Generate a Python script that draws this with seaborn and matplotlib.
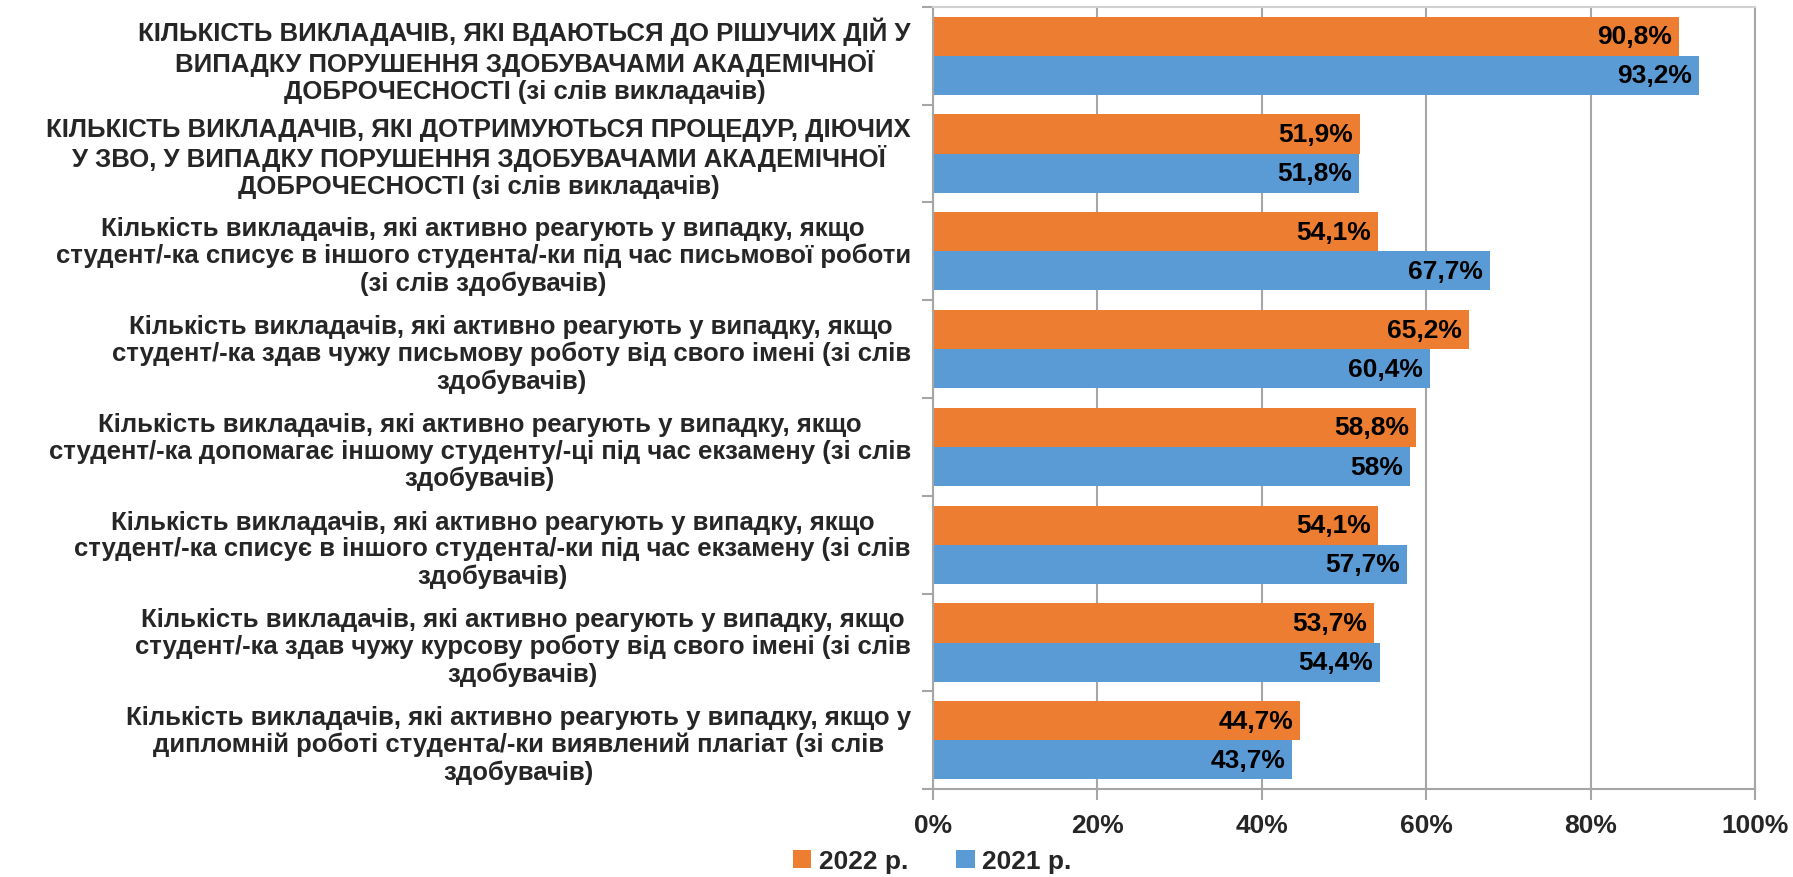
import matplotlib
matplotlib.use("Agg")
import matplotlib.pyplot as plt
import numpy as np
import pandas as pd
import seaborn as sns
from matplotlib.patches import Patch
from matplotlib.ticker import FixedLocator

categories = [
    "КІЛЬКІСТЬ ВИКЛАДАЧІВ, ЯКІ ВДАЮТЬСЯ ДО РІШУЧИХ ДІЙ У\nВИПАДКУ ПОРУШЕННЯ ЗДОБУВАЧАМИ АКАДЕМІЧНОЇ\nДОБРОЧЕСНОСТІ (зі слів викладачів)",
    "КІЛЬКІСТЬ ВИКЛАДАЧІВ, ЯКІ ДОТРИМУЮТЬСЯ ПРОЦЕДУР, ДІЮЧИХ\nУ ЗВО, У ВИПАДКУ ПОРУШЕННЯ ЗДОБУВАЧАМИ АКАДЕМІЧНОЇ\nДОБРОЧЕСНОСТІ (зі слів викладачів)",
    "Кількість викладачів, які активно реагують у випадку, якщо\nстудент/-ка списує в іншого студента/-ки під час письмової роботи\n(зі слів здобувачів)",
    "Кількість викладачів, які активно реагують у випадку, якщо\nстудент/-ка здав чужу письмову роботу від свого імені (зі слів\nздобувачів)",
    "Кількість викладачів, які активно реагують у випадку, якщо\nстудент/-ка допомагає іншому студенту/-ці під час екзамену (зі слів\nздобувачів)",
    "Кількість викладачів, які активно реагують у випадку, якщо\nстудент/-ка списує в іншого студента/-ки під час екзамену (зі слів\nздобувачів)",
    "Кількість викладачів, які активно реагують у випадку, якщо\nстудент/-ка здав чужу курсову роботу від свого імені (зі слів\nздобувачів)",
    "Кількість викладачів, які активно реагують у випадку, якщо у\nдипломній роботі студента/-ки виявлений плагіат (зі слів\nздобувачів)",
]
years = ["2022 р.", "2021 р."]
values_2022 = [90.8, 51.9, 54.1, 65.2, 58.8, 54.1, 53.7, 44.7]
values_2021 = [93.2, 51.8, 67.7, 60.4, 58.0, 57.7, 54.4, 43.7]
x_ticks = [0, 20, 40, 60, 80, 100]

colors = {"2022 р.": "#ED7D31", "2021 р.": "#5B9BD5"}
grid_c = "#A6A6A6"
fs = 19

df = pd.DataFrame({
    "category": categories * 2,
    "year": [years[0]] * len(categories) + [years[1]] * len(categories),
    "value": values_2022 + values_2021,
})

sns.set_theme(style="white")
plt.rcParams["font.family"] = ["Liberation Sans", "DejaVu Sans"]
plt.rcParams["font.weight"] = "bold"

fig = plt.figure(figsize=(17.93, 8.78), dpi=100)
ax = fig.add_axes([0.5204, 0.100, 0.4584, 0.891])

sns.barplot(data=df, x="value", y="category", hue="year", order=categories,
            hue_order=years, palette=colors, width=0.8, saturation=1,
            edgecolor="none", linewidth=0, ax=ax, legend=False)

for cont in ax.containers:
    labs = [f"{v:g}".replace(".", ",") + "%" for v in cont.datavalues]
    anns = ax.bar_label(cont, labels=labs, padding=-5, fontsize=fs,
                        fontweight="bold", color="black")
    for a in anns:
        a.set_ha("right")

ax.set_xlim(0, 100)
ax.set_xticks(x_ticks)
ax.set_xticklabels([f"{t}%" for t in x_ticks], fontsize=fs, fontweight="bold")
ax.xaxis.grid(True, color=grid_c, linewidth=1.5)
ax.set_axisbelow(True)
ax.set_xlabel("")
ax.set_ylabel("")

ax.set_yticks(range(len(categories)))
ax.set_yticklabels(categories, fontsize=18.5, fontweight="bold",
                   multialignment="center", linespacing=1.15)
ax.tick_params(axis="y", which="major", length=0, pad=16)
ax.yaxis.set_minor_locator(FixedLocator(np.arange(-0.5, len(categories), 1)))
ax.tick_params(axis="y", which="minor", length=8, width=1.5, color=grid_c,
               direction="out", left=True)
ax.tick_params(axis="x", length=8, width=1.5, color=grid_c, direction="out",
               bottom=True, pad=9)

for s in ["left", "bottom", "top", "right"]:
    ax.spines[s].set_visible(True)
    ax.spines[s].set_color(grid_c)
    ax.spines[s].set_linewidth(1.5)
ax.spines["top"].set_color("#D0D0D0")

handles = [Patch(facecolor=colors[y], edgecolor="none") for y in years]
fig.legend(handles, years, loc="center", bbox_to_anchor=(0.52, 0.018),
           ncol=2, frameon=False, prop={"size": fs, "weight": "bold"},
           handlelength=0.7, handleheight=0.7, handletextpad=0.3,
           columnspacing=1.8)

fig.savefig("out.png", dpi=100)
